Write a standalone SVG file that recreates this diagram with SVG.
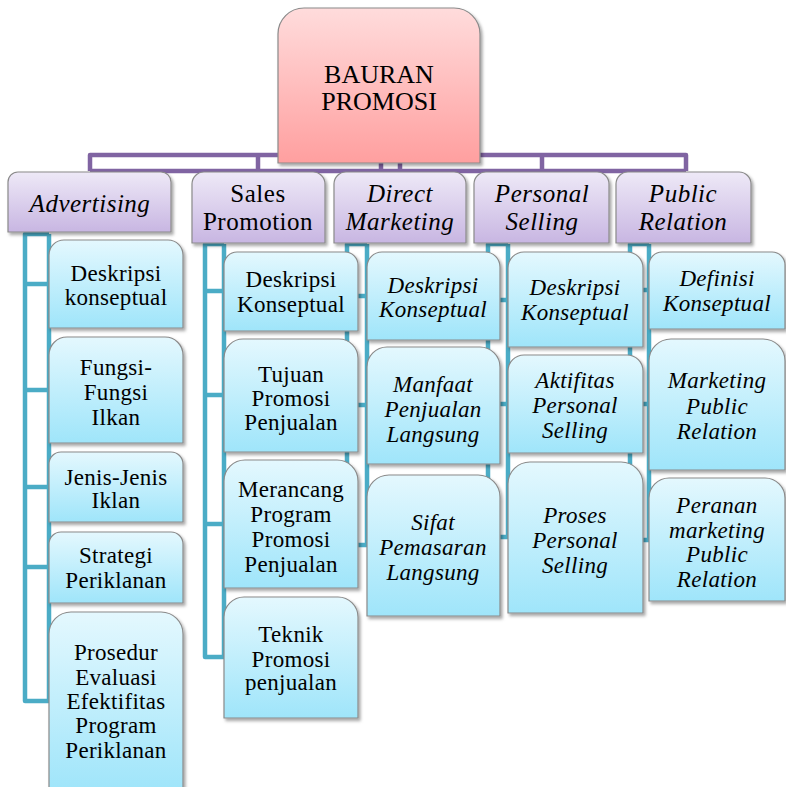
<svg xmlns="http://www.w3.org/2000/svg" width="786" height="787" viewBox="0 0 786 787">
  <defs>
    <linearGradient id="gRoot" x1="0" y1="0" x2="0" y2="1">
      <stop offset="0" stop-color="#ffdcdc"/>
      <stop offset="1" stop-color="#ff9f9f"/>
    </linearGradient>
    <linearGradient id="gCat" x1="0" y1="0" x2="0" y2="1">
      <stop offset="0" stop-color="#eee9f7"/>
      <stop offset="1" stop-color="#c8b6e2"/>
    </linearGradient>
    <linearGradient id="gLeaf" x1="0" y1="0" x2="0" y2="1">
      <stop offset="0" stop-color="#e4f8fe"/>
      <stop offset="1" stop-color="#9fe5fa"/>
    </linearGradient>
    <filter id="shadow" x="-10%" y="-10%" width="125%" height="125%">
      <feDropShadow dx="2" dy="2.5" stdDeviation="1.8" flood-color="#000" flood-opacity="0.35"/>
    </filter>
  </defs>
  <style>
    .root { fill: url(#gRoot); stroke: #8a8a8a; stroke-width: 1.2; filter: url(#shadow); }
    .cat { fill: url(#gCat); stroke: #8a8a8a; stroke-width: 1.2; filter: url(#shadow); }
    .leaf { fill: url(#gLeaf); stroke: #8a8a8a; stroke-width: 1.2; filter: url(#shadow); }
    text { font-family: "Liberation Serif", "Times New Roman", serif; fill: #000; text-anchor: middle; }
    .t-root { font-size: 26px; }
    .t-cat { font-size: 25px; letter-spacing: 0.5px; }
    .t-leaf { font-size: 23px; letter-spacing: 0.3px; }
    .it { font-style: italic; }
    .purple { fill: none; stroke: #8064a2; stroke-width: 4.5; stroke-linejoin: round; }
    .teal { fill: none; stroke: #4bacc6; stroke-width: 4.5; stroke-linejoin: round; }
  </style>

  <!-- connectors -->
  <g id="connectors">
    <path class="purple" d="M90,171 V155 H686 V171 M90,171 H686 M258,155 V171 M381,155 V171 M400,155 V171 M542,155 V171"/>
    <!-- Advertising children -->
    <path class="teal" d="M49,234 H25 V701 H49 M49,234 V701 M25,284 H49 M25,390 H49 M25,487 H49 M25,567 H49"/>
    <!-- Sales Promotion children -->
    <path class="teal" d="M224,244 H205 V657 H224 M224,244 V657 M205,291 H224 M205,395 H224 M205,524 H224"/>
    <!-- Direct Marketing children -->
    <path class="teal" d="M367,244 H347 V545 H367 M367,244 V545 M347,296 H367 M347,405 H367"/>
    <!-- Personal Selling children -->
    <path class="teal" d="M508,244 H488 V537 H508 M508,244 V537 M488,300 H508 M488,404 H508"/>
    <!-- Public Relation children -->
    <path class="teal" d="M649,244 H630 V540 H649 M649,244 V540 M630,290 H649 M630,404 H649"/>
  </g>

  <!-- root -->
  <g id="bauran-promosi">
    <path class="root" d="M278,163 V34 A26,26 0 0 1 304,8 H454 A26,26 0 0 1 480,34 V163 Z"/>
    <text class="t-root"><tspan x="379" y="83">BAURAN</tspan><tspan x="379" y="110">PROMOSI</tspan></text>
  </g>

  <!-- categories -->
  <g id="advertising">
    <path class="cat" d="M8,232 V182 A10,10 0 0 1 18,172 H161 A10,10 0 0 1 171,182 V232 Z"/>
    <text class="t-cat it"><tspan x="90" y="212">Advertising</tspan></text>
  </g>
  <g id="sales-promotion">
    <path class="cat" d="M192,243 V184 A12,12 0 0 1 204,172 H313 A12,12 0 0 1 325,184 V243 Z"/>
    <text class="t-cat"><tspan x="258" y="202">Sales</tspan><tspan x="258" y="230">Promotion</tspan></text>
  </g>
  <g id="direct-marketing">
    <path class="cat" d="M334,243 V184 A12,12 0 0 1 346,172 H454 A12,12 0 0 1 466,184 V243 Z"/>
    <text class="t-cat it"><tspan x="400" y="202">Direct</tspan><tspan x="400" y="230">Marketing</tspan></text>
  </g>
  <g id="personal-selling">
    <path class="cat" d="M474,243 V184 A12,12 0 0 1 486,172 H597 A12,12 0 0 1 609,184 V243 Z"/>
    <text class="t-cat it"><tspan x="542" y="202">Personal</tspan><tspan x="542" y="230">Selling</tspan></text>
  </g>
  <g id="public-relation">
    <path class="cat" d="M616,243 V184 A12,12 0 0 1 628,172 H739 A12,12 0 0 1 751,184 V243 Z"/>
    <text class="t-cat it"><tspan x="683" y="202">Public</tspan><tspan x="683" y="230">Relation</tspan></text>
  </g>

  <!-- Advertising items -->
  <g id="adv-deskripsi">
    <path class="leaf" d="M49,328 V255 A15,15 0 0 1 64,240 H168 A15,15 0 0 1 183,255 V328 Z"/>
    <text class="t-leaf"><tspan x="116" y="281">Deskripsi</tspan><tspan x="116" y="305">konseptual</tspan></text>
  </g>
  <g id="adv-fungsi">
    <path class="leaf" d="M49,443 V355 A18,18 0 0 1 67,337 H165 A18,18 0 0 1 183,355 V443 Z"/>
    <text class="t-leaf"><tspan x="116" y="375">Fungsi-</tspan><tspan x="116" y="400">Fungsi</tspan><tspan x="116" y="425">Ilkan</tspan></text>
  </g>
  <g id="adv-jenis">
    <path class="leaf" d="M49,522 V464 A12,12 0 0 1 61,452 H171 A12,12 0 0 1 183,464 V522 Z"/>
    <text class="t-leaf"><tspan x="116" y="485">Jenis-Jenis</tspan><tspan x="116" y="508">Iklan</tspan></text>
  </g>
  <g id="adv-strategi">
    <path class="leaf" d="M49,603 V544 A12,12 0 0 1 61,532 H171 A12,12 0 0 1 183,544 V603 Z"/>
    <text class="t-leaf"><tspan x="116" y="563">Strategi</tspan><tspan x="116" y="588">Periklanan</tspan></text>
  </g>
  <g id="adv-prosedur">
    <path class="leaf" d="M49,792 V634 A22,22 0 0 1 71,612 H161 A22,22 0 0 1 183,634 V792 Z"/>
    <text class="t-leaf"><tspan x="116" y="660">Prosedur</tspan><tspan x="116" y="685">Evaluasi</tspan><tspan x="116" y="709">Efektifitas</tspan><tspan x="116" y="733">Program</tspan><tspan x="116" y="758">Periklanan</tspan></text>
  </g>

  <!-- Sales Promotion items -->
  <g id="sp-deskripsi">
    <path class="leaf" d="M224,331 V265 A13,13 0 0 1 237,252 H345 A13,13 0 0 1 358,265 V331 Z"/>
    <text class="t-leaf"><tspan x="291" y="287">Deskripsi</tspan><tspan x="291" y="312">Konseptual</tspan></text>
  </g>
  <g id="sp-tujuan">
    <path class="leaf" d="M224,452 V358 A19,19 0 0 1 243,339 H339 A19,19 0 0 1 358,358 V452 Z"/>
    <text class="t-leaf"><tspan x="291" y="382">Tujuan</tspan><tspan x="291" y="406">Promosi</tspan><tspan x="291" y="430">Penjualan</tspan></text>
  </g>
  <g id="sp-merancang">
    <path class="leaf" d="M224,588 V481 A21,21 0 0 1 245,460 H337 A21,21 0 0 1 358,481 V588 Z"/>
    <text class="t-leaf"><tspan x="291" y="497">Merancang</tspan><tspan x="291" y="522">Program</tspan><tspan x="291" y="547">Promosi</tspan><tspan x="291" y="572">Penjualan</tspan></text>
  </g>
  <g id="sp-teknik">
    <path class="leaf" d="M224,718 V617 A20,20 0 0 1 244,597 H338 A20,20 0 0 1 358,617 V718 Z"/>
    <text class="t-leaf"><tspan x="291" y="642">Teknik</tspan><tspan x="291" y="667">Promosi</tspan><tspan x="291" y="690">penjualan</tspan></text>
  </g>

  <!-- Direct Marketing items -->
  <g id="dm-deskripsi">
    <path class="leaf" d="M367,340 V267 A15,15 0 0 1 382,252 H485 A15,15 0 0 1 500,267 V340 Z"/>
    <text class="t-leaf it"><tspan x="433" y="293">Deskripsi</tspan><tspan x="433" y="317">Konseptual</tspan></text>
  </g>
  <g id="dm-manfaat">
    <path class="leaf" d="M367,464 V367 A20,20 0 0 1 387,347 H480 A20,20 0 0 1 500,367 V464 Z"/>
    <text class="t-leaf it"><tspan x="433" y="392">Manfaat</tspan><tspan x="433" y="417">Penjualan</tspan><tspan x="433" y="442">Langsung</tspan></text>
  </g>
  <g id="dm-sifat">
    <path class="leaf" d="M367,616 V497 A22,22 0 0 1 389,475 H478 A22,22 0 0 1 500,497 V616 Z"/>
    <text class="t-leaf it"><tspan x="433" y="530">Sifat</tspan><tspan x="433" y="555">Pemasaran</tspan><tspan x="433" y="580">Langsung</tspan></text>
  </g>

  <!-- Personal Selling items -->
  <g id="ps-deskripsi">
    <path class="leaf" d="M508,347 V268 A16,16 0 0 1 524,252 H627 A16,16 0 0 1 643,268 V347 Z"/>
    <text class="t-leaf it"><tspan x="575" y="295">Deskripsi</tspan><tspan x="575" y="320">Konseptual</tspan></text>
  </g>
  <g id="ps-aktifitas">
    <path class="leaf" d="M508,453 V371 A16,16 0 0 1 524,355 H627 A16,16 0 0 1 643,371 V453 Z"/>
    <text class="t-leaf it"><tspan x="575" y="388">Aktifitas</tspan><tspan x="575" y="413">Personal</tspan><tspan x="575" y="438">Selling</tspan></text>
  </g>
  <g id="ps-proses">
    <path class="leaf" d="M508,613 V484 A22,22 0 0 1 530,462 H621 A22,22 0 0 1 643,484 V613 Z"/>
    <text class="t-leaf it"><tspan x="575" y="523">Proses</tspan><tspan x="575" y="548">Personal</tspan><tspan x="575" y="573">Selling</tspan></text>
  </g>

  <!-- Public Relation items -->
  <g id="pr-definisi">
    <path class="leaf" d="M649,329 V265 A13,13 0 0 1 662,252 H772 A13,13 0 0 1 785,265 V329 Z"/>
    <text class="t-leaf it"><tspan x="717" y="286">Definisi</tspan><tspan x="717" y="311">Konseptual</tspan></text>
  </g>
  <g id="pr-marketing">
    <path class="leaf" d="M649,470 V361 A22,22 0 0 1 671,339 H763 A22,22 0 0 1 785,361 V470 Z"/>
    <text class="t-leaf it"><tspan x="717" y="388">Marketing</tspan><tspan x="717" y="414">Public</tspan><tspan x="717" y="439">Relation</tspan></text>
  </g>
  <g id="pr-peranan">
    <path class="leaf" d="M649,601 V498 A20,20 0 0 1 669,478 H765 A20,20 0 0 1 785,498 V601 Z"/>
    <text class="t-leaf it"><tspan x="717" y="513">Peranan</tspan><tspan x="717" y="538">marketing</tspan><tspan x="717" y="562">Public</tspan><tspan x="717" y="587">Relation</tspan></text>
  </g>
</svg>
